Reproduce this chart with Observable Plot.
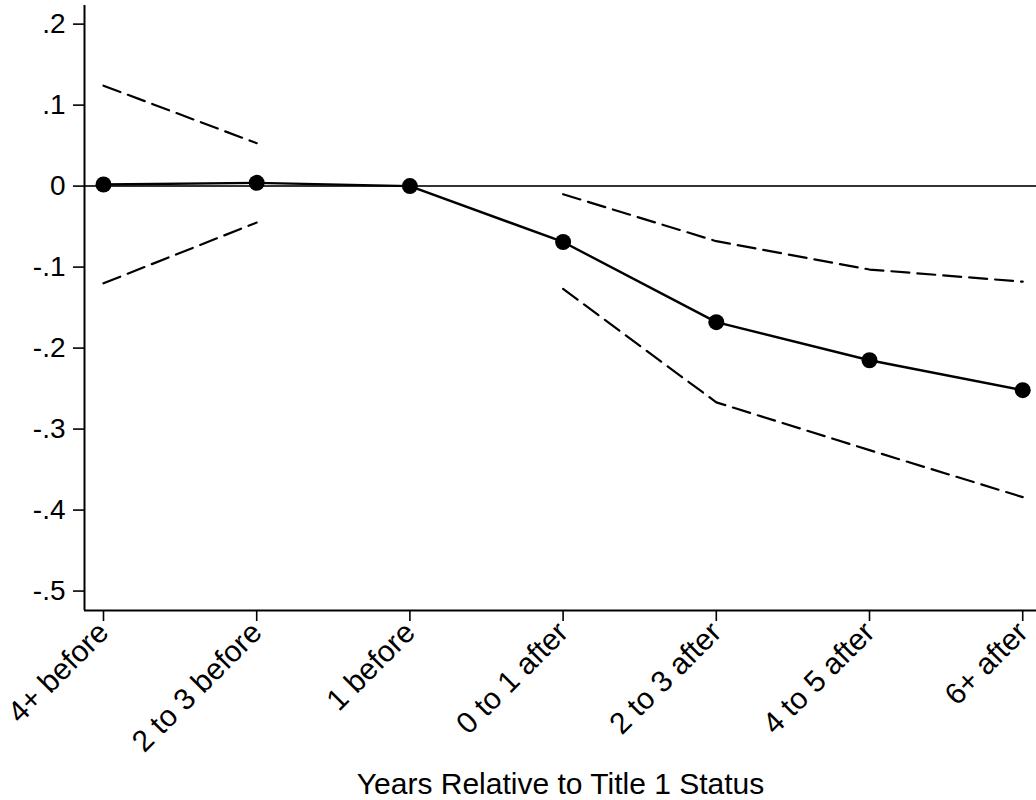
<!DOCTYPE html>
<html>
<head>
<meta charset="utf-8">
<script src="https://cdn.jsdelivr.net/npm/d3@7"></script>
<script src="https://cdn.jsdelivr.net/npm/@observablehq/plot@0.6"></script>
<style>
  html, body { margin: 0; padding: 0; background: #fff; }
  #chart svg { display: block; }
</style>
</head>
<body>
<div id="chart"></div>
<script>
const categories = ["4+ before", "2 to 3 before", "1 before", "0 to 1 after", "2 to 3 after", "4 to 5 after", "6+ after"];
const estimates = [0.002, 0.004, 0, -0.069, -0.168, -0.215, -0.252];
const upperCI = [0.124, 0.053, null, -0.010, -0.068, -0.103, -0.118];
const lowerCI = [-0.120, -0.045, null, -0.127, -0.267, -0.326, -0.384];
const yTicks = [0.2, 0.1, 0, -0.1, -0.2, -0.3, -0.4, -0.5];
const yTickLabels = [".2", ".1", "0", "-.1", "-.2", "-.3", "-.4", "-.5"];
const xTitle = "Years Relative to Title 1 Status";

const xDomain = [-0.124, 6.09];
const yDomain = [-0.524, 0.223];

const rows = categories.map((c, i) => ({i, c, est: estimates[i], hi: upperCI[i], lo: lowerCI[i]}));
const FONT = "'Liberation Sans', Arial, Helvetica, sans-serif";

const chart = Plot.plot({
  width: 1036,
  height: 800,
  marginLeft: 84,
  marginRight: 0,
  marginTop: 5,
  marginBottom: 190,
  style: {fontFamily: FONT, fontSize: "28px", color: "#000", background: "#fff"},
  x: {type: "linear", domain: xDomain},
  y: {type: "linear", domain: yDomain},
  marks: [
    Plot.ruleY([0], {stroke: "#333", strokeWidth: 2}),
    Plot.line(rows, {x: "i", y: "hi", stroke: "#000", strokeWidth: 2.2, strokeDasharray: "18,8"}),
    Plot.line(rows, {x: "i", y: "lo", stroke: "#000", strokeWidth: 2.2, strokeDasharray: "18,8"}),
    Plot.line(rows, {x: "i", y: "est", stroke: "#000", strokeWidth: 2.4}),
    Plot.dot(rows, {x: "i", y: "est", r: 8, fill: "#000", stroke: "none"}),
    Plot.ruleX([xDomain[0]], {stroke: "#000", strokeWidth: 2}),
    Plot.ruleY([yDomain[0]], {stroke: "#000", strokeWidth: 2}),
    Plot.axisY({
      ticks: yTicks,
      tickFormat: v => yTickLabels[yTicks.indexOf(v)],
      tickSize: 11,
      tickPadding: 8,
      fontSize: 28,
      stroke: "#000",
      strokeWidth: 1.6,
      label: null
    }),
    Plot.axisX({
      ticks: categories.map((_, i) => i),
      tickFormat: i => categories[i],
      tickSize: 11,
      tickPadding: 6,
      tickRotate: -45,
      fontSize: 30,
      stroke: "#000",
      strokeWidth: 1.6,
      label: null
    }),
    Plot.axisX({
      ticks: [],
      label: xTitle,
      labelAnchor: "center",
      labelArrow: "none",
      labelOffset: 183,
      fontSize: 30
    })
  ]
});
document.getElementById("chart").appendChild(chart);
</script>
</body>
</html>
